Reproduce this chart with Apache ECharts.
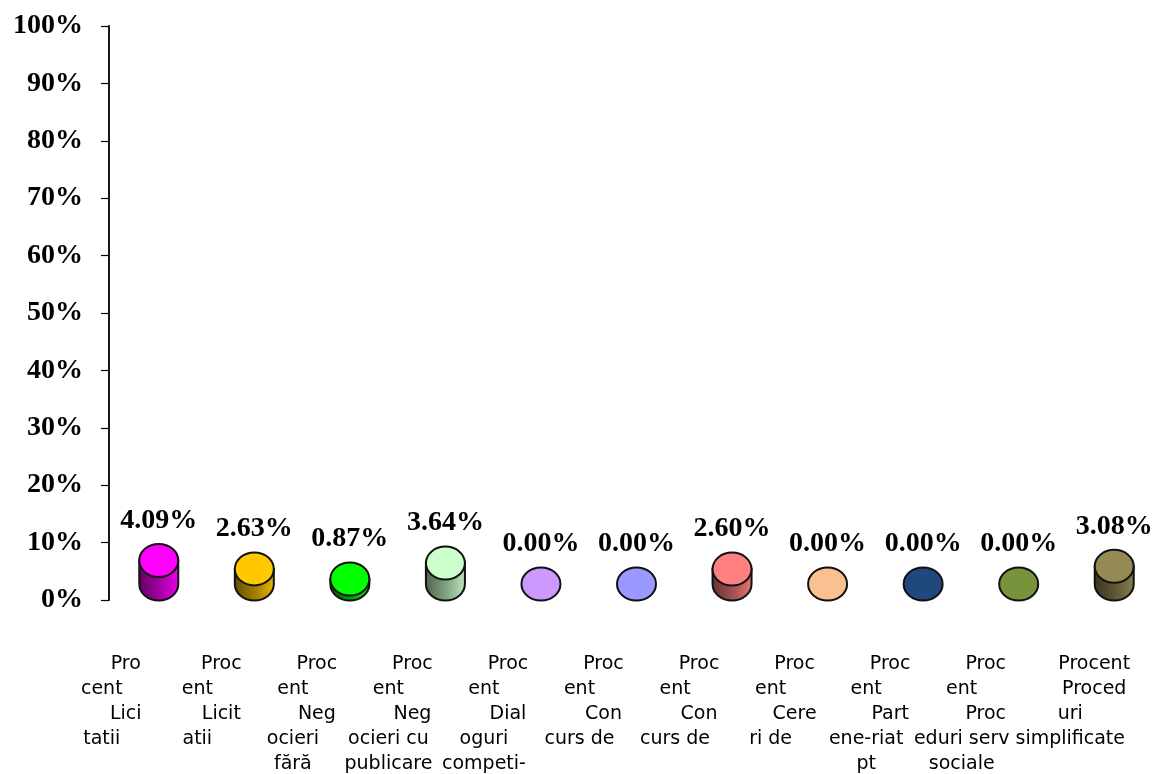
<!DOCTYPE html>
<html>
<head>
<meta charset="utf-8">
<script src="https://cdn.jsdelivr.net/npm/echarts@6/dist/echarts.min.js"></script>
<style>
  html, body { margin: 0; padding: 0; background: #ffffff; }
  #chart { width: 1160px; height: 774px; }
</style>
</head>
<body>
<div id="chart"></div>
<script>
// Category labels, one entry per line as they wrap under each cylinder
const categoryLines = [
  ['Pro', 'cent', 'Lici', 'tatii'],
  ['Proc', 'ent', 'Licit', 'atii'],
  ['Proc', 'ent', 'Neg', 'ocieri', 'fără'],
  ['Proc', 'ent', 'Neg', 'ocieri cu', 'publicare'],
  ['Proc', 'ent', 'Dial', 'oguri', 'competi-'],
  ['Proc', 'ent', 'Con', 'curs de'],
  ['Proc', 'ent', 'Con', 'curs de'],
  ['Proc', 'ent', 'Cere', 'ri de'],
  ['Proc', 'ent', 'Part', 'ene-riat', 'pt'],
  ['Proc', 'ent', 'Proc', 'eduri serv', 'sociale'],
  ['Procent', 'Proced', 'uri', 'simplificate']
];

// Share of each procedure type, in percent
const values = [4.09, 2.63, 0.87, 3.64, 0.00, 0.00, 2.60, 0.00, 0.00, 0.00, 3.08];

// Value axis ticks (percent)
const yMin = 0;
const yMax = 100;
const yStep = 10;

// Cylinder colours, one per category
const colors = ['#FF00FF', '#FFC800', '#00FF00', '#CCFFCC', '#CC99FF', '#9999FF',
                '#FF8080', '#FAC090', '#1F497D', '#77933C', '#948A54'];

// ---- layout / style ----
const indentedLines = [[0, 2], [0, 2], [0, 2], [0, 2], [0, 2], [0, 2], [0, 2], [0, 2], [0, 2], [0, 2], [0, 1]];
const extraShift = [0, 0, 0, 0, 0, 0, 0, 0, 0, 0, 1];

function shade(hex, f) {
  const n = parseInt(hex.slice(1), 16);
  const r = Math.round(((n >> 16) & 255) * f);
  const g = Math.round(((n >> 8) & 255) * f);
  const b = Math.round((n & 255) * f);
  return 'rgb(' + r + ',' + g + ',' + b + ')';
}

const labelFont = { fontFamily: 'DejaVu Sans', fontSize: 19, lineHeight: 25, color: '#000' };

const chart = echarts.init(document.getElementById('chart'), null, { renderer: 'canvas' });

chart.setOption({
  animation: false,
  backgroundColor: '#ffffff',
  grid: { left: 109, right: 0, top: 26, bottom: 170, containLabel: false },
  xAxis: {
    type: 'category',
    data: categoryLines.map(l => l.join(' ')),
    boundaryGap: true,
    axisLine: { show: false },
    axisTick: { show: false },
    splitLine: { show: false },
    axisLabel: {
      interval: 0,
      margin: 52,
      align: 'center',
      verticalAlign: 'top',
      padding: [0, 110, 0, 0],
      formatter: function (value, index) {
        const lines = categoryLines[index];
        const ind = indentedLines[index];
        const sh = extraShift[index];
        return lines.map((t, k) => {
          const key = (ind.indexOf(k) >= 0 ? 'i' : 'n') + (sh ? '2' : '');
          return '{' + key + '|' + t + '}';
        }).join('\n');
      },
      rich: {
        n: Object.assign({}, labelFont),
        i: Object.assign({ padding: [0, 0, 0, 48] }, labelFont),
        n2: Object.assign({ padding: [0, 0, 0, 26] }, labelFont),
        i2: Object.assign({ padding: [0, 0, 0, 74] }, labelFont)
      }
    }
  },
  yAxis: {
    type: 'value',
    min: yMin,
    max: yMax,
    interval: yStep,
    axisLine: { show: true, lineStyle: { color: '#000', width: 1.8 } },
    axisTick: { show: true, inside: false, length: 8, lineStyle: { color: '#000', width: 1.2 } },
    splitLine: { show: false },
    axisLabel: {
      margin: 26,
      formatter: '{value}%',
      fontFamily: 'Liberation Serif',
      fontWeight: 'bold',
      fontSize: 28,
      color: '#000',
      padding: [4, 0, 0, 0]
    }
  },
  series: [{
    type: 'custom',
    data: values.map((v, i) => [i, v]),
    encode: { x: 0, y: 1 },
    clip: false,
    renderItem: function (params, api) {
      const i = api.value(0);
      const v = api.value(1);
      const base = api.coord([i, 0]);
      const top = api.coord([i, v]);
      const rx = 19.5, ry = 16.5;
      const cx = base[0] + 2;
      const yb = base[1] - 16;
      const yt = yb - (base[1] - top[1]);
      const col = colors[i];
      const children = [];
      if (yb - yt > 0.3) {
        children.push({
          type: 'path',
          shape: {
            pathData: 'M' + (cx - rx) + ',' + yt + ' L' + (cx - rx) + ',' + yb +
              ' A' + rx + ',' + ry + ' 0 0 0 ' + (cx + rx) + ',' + yb +
              ' L' + (cx + rx) + ',' + yt + ' Z'
          },
          style: {
            fill: {
              type: 'linear', x: 0, y: 0, x2: 1, y2: 0,
              colorStops: [
                { offset: 0, color: shade(col, 0.38) },
                { offset: 0.55, color: shade(col, 0.65) },
                { offset: 1, color: shade(col, 0.92) }
              ]
            },
            stroke: '#111',
            lineWidth: 2
          }
        });
      }
      children.push({
        type: 'path',
        shape: {
          pathData: 'M' + (cx - rx) + ',' + yt +
            ' A' + rx + ',' + ry + ' 0 1 0 ' + (cx + rx) + ',' + yt +
            ' A' + rx + ',' + ry + ' 0 1 0 ' + (cx - rx) + ',' + yt + ' Z'
        },
        style: { fill: col, stroke: '#111', lineWidth: 2 }
      });
      children.push({
        type: 'text',
        style: {
          x: cx,
          y: yt - 40,
          text: v.toFixed(2) + '%',
          font: 'bold 28px "Liberation Serif"',
          fill: '#000',
          align: 'center',
          verticalAlign: 'middle',
          textAlign: 'center',
          textVerticalAlign: 'middle'
        }
      });
      return { type: 'group', children: children };
    }
  }]
});
</script>
</body>
</html>
